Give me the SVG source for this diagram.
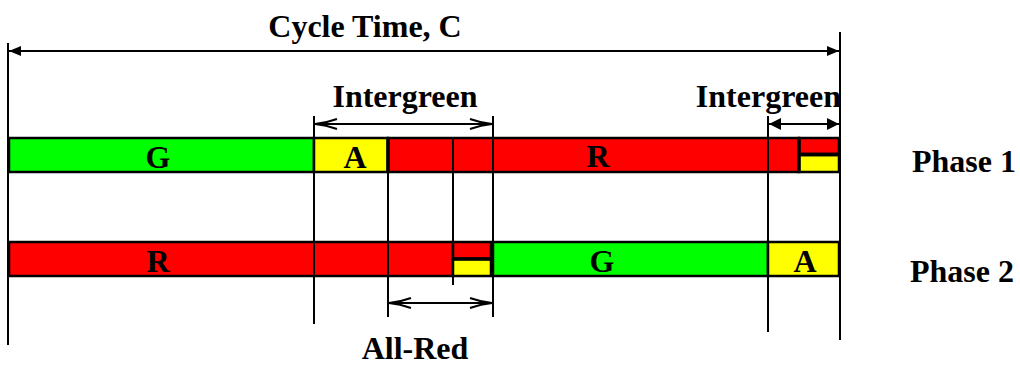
<svg xmlns="http://www.w3.org/2000/svg" width="1020" height="365" viewBox="0 0 1020 365">
<defs>
<style>
.t{font-family:"Liberation Serif","Times New Roman",serif;font-weight:bold;font-size:32px;fill:#000}
.seg{stroke:#000;stroke-width:2.5}
.g{fill:#00ff00}.y{fill:#ffff00}.r{fill:#ff0000}
.ln{stroke:#000;stroke-width:2;fill:none}
.thick{stroke:#000;stroke-width:3.5;fill:none}
</style>
<marker id="fa" markerUnits="userSpaceOnUse" markerWidth="14" markerHeight="12" refX="12" refY="6" orient="auto-start-reverse" viewBox="0 0 14 12">
<path d="M0,1 L12,6 L0,11 Z" fill="#000"/>
</marker>
<marker id="fb" markerUnits="userSpaceOnUse" markerWidth="14" markerHeight="14" refX="12" refY="7" orient="auto-start-reverse" viewBox="0 0 14 14">
<path d="M0,1 L12,7 L0,13 Z" fill="#000"/>
</marker>
<marker id="oa" markerUnits="userSpaceOnUse" markerWidth="26" markerHeight="14" refX="23" refY="7" orient="auto-start-reverse" viewBox="0 0 26 14">
<path d="M1,2 Q12,6 23,7 Q12,8 1,12" fill="none" stroke="#000" stroke-width="2"/>
</marker>
</defs>

<g id="guides">
<line class="ln" x1="8" y1="43" x2="8" y2="345"/>
<line class="ln" x1="314" y1="116" x2="314" y2="324"/>
<line class="ln" x1="388" y1="137" x2="388" y2="317"/>
<line class="ln" x1="453" y1="137" x2="453" y2="285"/>
<line class="ln" x1="493" y1="116" x2="493" y2="317"/>
<line class="ln" x1="768" y1="116" x2="768" y2="332"/>
<line class="ln" x1="840" y1="32" x2="840" y2="340"/>
</g>

<g id="phase1">
<rect class="seg g" x="9" y="138" width="305" height="34"/>
<rect class="seg y" x="314" y="138" width="74" height="34"/>
<rect class="seg r" x="388" y="138" width="411" height="34"/>
<rect class="seg r" x="799" y="138" width="40" height="16"/>
<rect class="seg y" x="799" y="155" width="40" height="17"/>
<line class="thick" x1="799" y1="154.5" x2="839" y2="154.5"/>
<line class="thick" x1="388" y1="137" x2="388" y2="173"/>
<line class="thick" x1="799" y1="137" x2="799" y2="173"/>
<line class="ln" x1="453" y1="137" x2="453" y2="173"/>
<line class="ln" x1="493" y1="137" x2="493" y2="173"/>
<line class="ln" x1="768" y1="137" x2="768" y2="173"/>
<text class="t" x="158" y="168" text-anchor="middle">G</text>
<text class="t" x="355" y="168" text-anchor="middle">A</text>
<text class="t" x="598" y="167" text-anchor="middle">R</text>
</g>

<g id="phase2">
<rect class="seg r" x="9" y="242" width="444" height="34"/>
<rect class="seg r" x="453" y="242" width="38" height="17"/>
<rect class="seg y" x="453" y="259" width="38" height="17"/>
<line class="thick" x1="453" y1="259" x2="491" y2="259"/>
<rect class="seg g" x="493" y="242" width="275" height="34"/>
<rect class="seg y" x="768" y="242" width="71" height="34"/>
<line class="thick" x1="492" y1="241" x2="492" y2="277"/>
<line class="ln" x1="314" y1="242" x2="314" y2="276"/>
<line class="ln" x1="388" y1="242" x2="388" y2="276"/>
<text class="t" x="158" y="272" text-anchor="middle">R</text>
<text class="t" x="602" y="272" text-anchor="middle">G</text>
<text class="t" x="805" y="272" text-anchor="middle">A</text>
</g>

<g id="connectors">
<line class="ln" x1="9" y1="51" x2="839" y2="51" marker-start="url(#fa)" marker-end="url(#fa)"/>
<line class="ln" x1="315" y1="124" x2="492" y2="124" marker-start="url(#oa)" marker-end="url(#oa)"/>
<line class="ln" x1="769" y1="124" x2="839" y2="124" marker-start="url(#fb)" marker-end="url(#fb)"/>
<line class="ln" x1="389" y1="303" x2="492" y2="303" marker-start="url(#oa)" marker-end="url(#oa)"/>
</g>

<g id="labels">
<text class="t" x="365" y="37" text-anchor="middle">Cycle Time, C</text>
<text class="t" x="405" y="107" text-anchor="middle">Intergreen</text>
<text class="t" x="841" y="107" text-anchor="end">Intergreen</text>
<text class="t" x="415" y="359" text-anchor="middle">All-Red</text>
<text class="t" x="912" y="172">Phase 1</text>
<text class="t" x="910" y="282">Phase 2</text>
</g>
</svg>
